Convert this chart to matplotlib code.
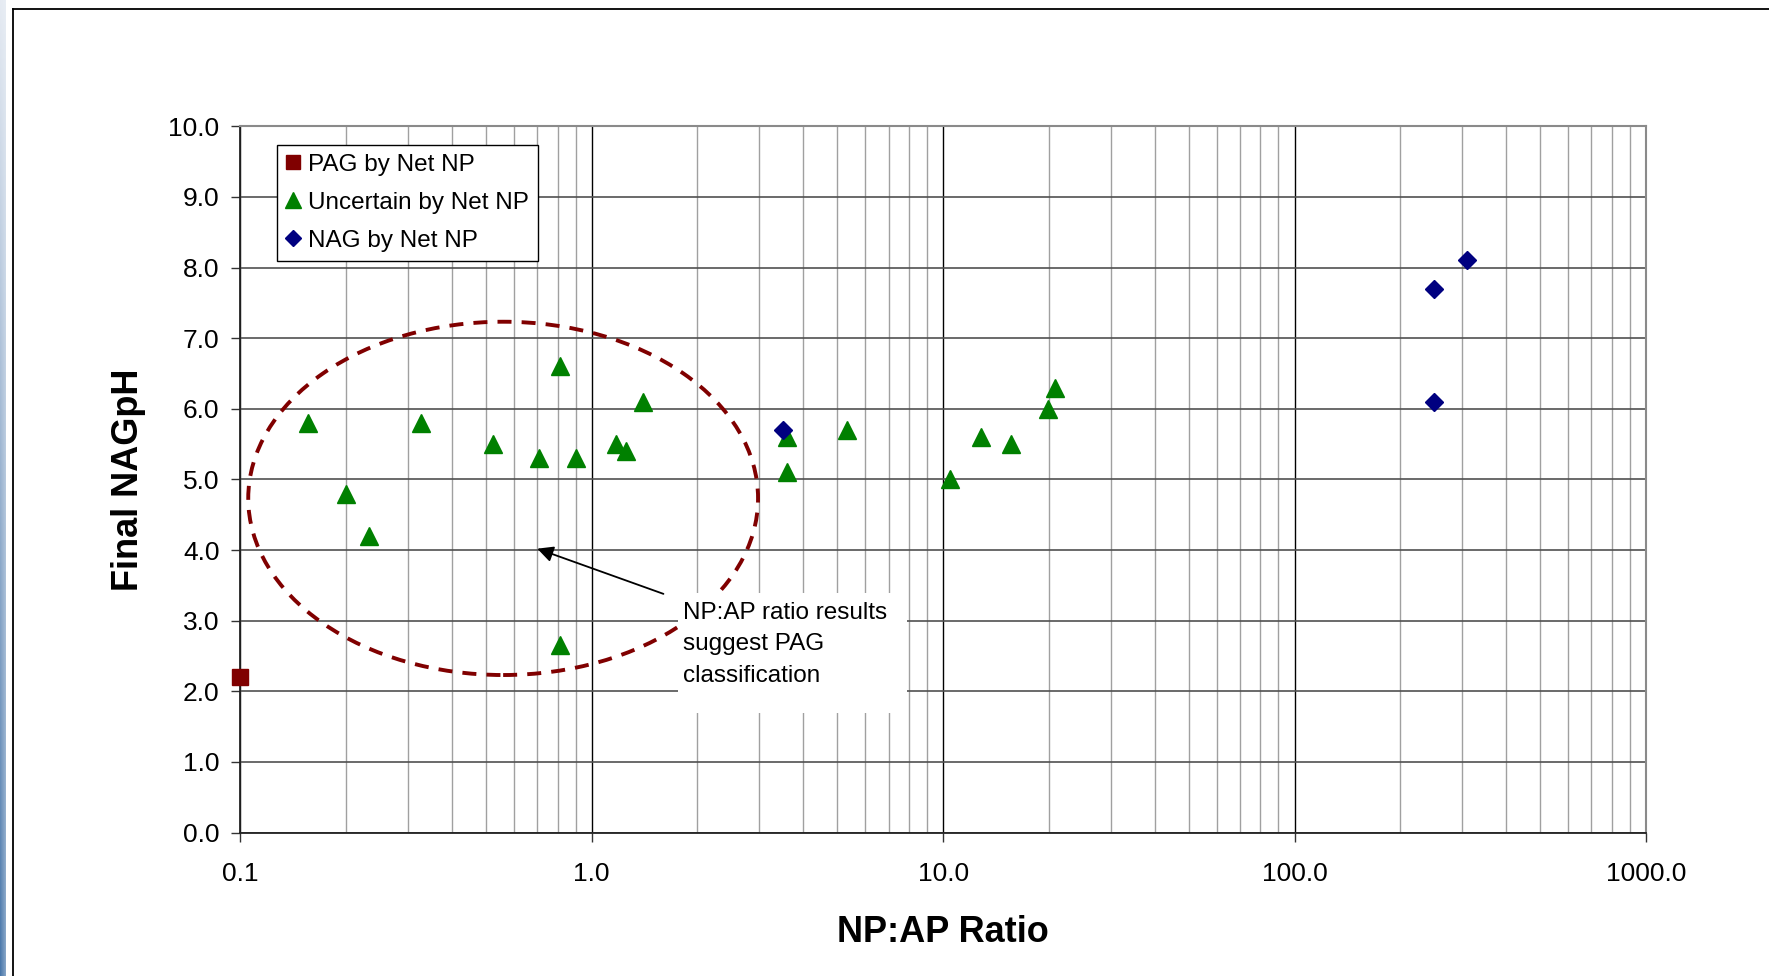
import matplotlib
matplotlib.use("Agg")
import matplotlib.pyplot as plt
from matplotlib.patches import Ellipse, Rectangle
from matplotlib.lines import Line2D
from matplotlib.ticker import FixedLocator, FixedFormatter, LogLocator, NullFormatter
import numpy as np

plt.rcParams['font.family'] = ['Liberation Sans', 'DejaVu Sans']

# NP:AP ratio vs final NAG pH, split by Net NP classification
pag_ratio = [0.1]
pag_ph = [2.2]

unc_ratio = [0.156, 0.20, 0.232, 0.326, 0.524, 0.81, 0.71, 0.905, 1.17, 1.25,
             1.40, 0.81, 3.6, 3.6, 5.34, 10.45, 12.85, 15.6, 19.9, 20.8]
unc_ph = [5.8, 4.8, 4.2, 5.8, 5.5, 6.6, 5.3, 5.3, 5.5, 5.4,
          6.1, 2.65, 5.6, 5.1, 5.7, 5.0, 5.6, 5.5, 6.0, 6.3]

nag_ratio = [3.5, 249.0, 249.0, 309.0]
nag_ph = [5.7, 7.7, 6.1, 8.1]

x_ticks = [0.1, 1.0, 10.0, 100.0, 1000.0]
x_ticklabels = ["0.1", "1.0", "10.0", "100.0", "1000.0"]
y_ticks = list(range(0, 11))
y_ticklabels = [f"{v:.1f}" for v in y_ticks]

note_text = "NP:AP ratio results\nsuggest PAG\nclassification"

W, H = 1769, 976
fig = plt.figure(figsize=(W / 100, H / 100), dpi=100)
fig.patch.set_facecolor('white')

# window edge strip on the far left
strip = fig.add_axes([0, 0, 5 / W, 1])
gy = np.linspace(0, 1, 200)[:, None]
gx = np.linspace(0, 1, 5)[None, :]
top_c = np.array([0.90, 0.92, 0.95])
bot_c = np.array([0.29, 0.47, 0.67])
img = (top_c[None, None, :] * (1 - gy[..., None]) + bot_c[None, None, :] * gy[..., None])
img = img * (1 - 0.35 * gx[..., None]) + 0.35 * gx[..., None] * np.array([0.93, 0.95, 0.97])
strip.imshow(np.clip(img, 0, 1), aspect='auto', extent=[0, 1, 0, 1])
strip.axis('off')

# chart frame (runs off the right and bottom edges)
fig.add_artist(Line2D([13 / W, 13 / W], [0, 1 - 9 / H], color='black', lw=1.3,
                      transform=fig.transFigure))
fig.add_artist(Line2D([13 / W, 1], [1 - 9 / H, 1 - 9 / H], color='black', lw=1.3,
                      transform=fig.transFigure))

ax = fig.add_axes([240.3 / W, 1 - 832.6 / H, 1405.6 / W, 706.3 / H])
ax.set_xscale('log')
ax.set_xlim(0.1, 1000)
ax.set_ylim(0, 10)

# gridlines
ax.xaxis.set_major_locator(FixedLocator(x_ticks))
ax.xaxis.set_major_formatter(FixedFormatter(x_ticklabels))
ax.xaxis.set_minor_locator(LogLocator(base=10, subs=np.arange(2, 10)))
ax.xaxis.set_minor_formatter(NullFormatter())
ax.yaxis.set_major_locator(FixedLocator(y_ticks))
ax.yaxis.set_major_formatter(FixedFormatter(y_ticklabels))

ax.grid(which='minor', axis='x', color='#a0a0a0', lw=1.0, zorder=0)
ax.grid(which='major', axis='x', color='#000000', lw=1.0, zorder=0)
ax.grid(which='major', axis='y', color='#505050', lw=1.2, zorder=0)
ax.set_axisbelow(True)

ax.tick_params(which='major', direction='out', length=6.5, width=1, color='#333333',
               labelsize=19, labelcolor='black')
ax.tick_params(axis='x', which='major', pad=14.7)
ax.tick_params(axis='y', which='major', pad=8.5)
ax.tick_params(which='minor', length=0)

for side in ['top', 'right']:
    ax.spines[side].set_color('#8a8a8a')
    ax.spines[side].set_linewidth(1.5)
for side in ['left', 'bottom']:
    ax.spines[side].set_color('#222222')
    ax.spines[side].set_linewidth(1.3)

ax.plot(pag_ratio, pag_ph, ls='none', marker='s', ms=12, color='#800000',
        label='PAG by Net NP', zorder=5, clip_on=False)
ax.plot(unc_ratio, unc_ph, ls='none', marker='^', ms=13.3, color='#008000',
        label='Uncertain by Net NP', zorder=5)
ax.plot(nag_ratio, nag_ph, ls='none', marker='D', ms=9.5, color='#000080',
        label='NAG by Net NP', zorder=6)

ax.set_xlabel('NP:AP Ratio', fontsize=26, fontweight='bold', labelpad=21)
ax.set_ylabel('Final NAGpH', fontsize=26, fontweight='bold', labelpad=16)

leg = ax.legend(loc='upper left', bbox_to_anchor=(0.0259, 0.973), borderaxespad=0,
                fontsize=17.5, frameon=True, fancybox=False, framealpha=1,
                edgecolor='black', numpoints=1, handlelength=0.6, handletextpad=0.35,
                borderpad=0.35, labelspacing=0.66, markerscale=0.85)
leg.get_frame().set_linewidth(1.0)
leg.set_zorder(10)

# dashed ring around the low-ratio group
ring = Ellipse((0.187, 0.4732), 0.3627, 0.5002, transform=ax.transAxes,
               fill=False, edgecolor='#800000', lw=2.8, ls=(0, (3.6, 2.6)), zorder=7)
ax.add_patch(ring)

# callout box and arrow
ax.add_patch(Rectangle((0.3114, 0.1693), 0.1628, 0.170, transform=ax.transAxes,
                       facecolor='white', edgecolor='none', zorder=8))
ax.text(0.3148, 0.3266, note_text, transform=ax.transAxes, ha='left', va='top',
        fontsize=17.5, linespacing=1.56, color='black', zorder=9)
ax.annotate('', xy=(0.70, 4.02), xytext=(1.6, 3.38), xycoords='data',
            arrowprops=dict(arrowstyle='-|>', color='black', lw=1.3,
                            mutation_scale=24, shrinkA=0, shrinkB=0), zorder=9)

fig.savefig('out.png', dpi=100, facecolor='white')
